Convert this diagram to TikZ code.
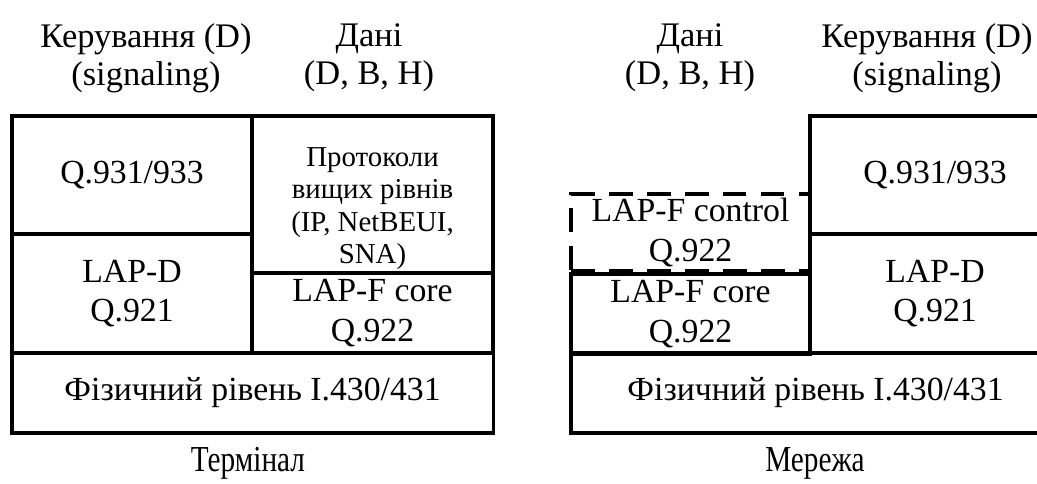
\documentclass[tikz,border=0pt]{standalone}
\usepackage{fontspec}
\setmainfont{Liberation Serif}
\usepackage{tikz}
\usetikzlibrary{positioning}

\begin{document}
\begin{tikzpicture}[
  x=0.025cm, y=-0.025cm,
  layer/.style={rectangle, draw, line width=2.3pt, anchor=north west,
                inner sep=0pt, outer sep=0pt, align=center,
                font=\fontsize{24}{28}\selectfont},
  dashlayer/.style={layer, dash pattern=on 17pt off 10pt},
  small/.style={align=center, inner sep=0pt, font=\fontsize{20.5}{23}\selectfont},
  head/.style={align=center, font=\fontsize{24.5}{27}\selectfont},
  caption/.style={font=\fontsize{26}{28}\selectfont}
]
\useasboundingbox (0,0) rectangle (1037,483);
\clip (0,0) rectangle (1037,483);

% terminal side
\node[layer, minimum width=6cm, minimum height=2.95cm] (q931T) at (12,116) {Q.931/933};
\node[layer, minimum width=6cm, minimum height=2.975cm] (lapdT) at (12,234) {LAP-D\\Q.921};
\node[layer, minimum width=6.025cm, minimum height=3.925cm] (protoT) at (252,116) {};
\node[small, below=0.78cm of protoT.north] (protoTxt)
  {Протоколи\\вищих рівнів\\(IP, NetBEUI,\\SNA)};
\node[layer, minimum width=6.025cm, minimum height=2cm] (coreT) at (252,273) {LAP-F core\\Q.922};
\node[layer, minimum width=12.025cm, minimum height=2cm] (physT) at (12,353) {Фізичний рівень I.430/431};

% network side
\node[dashlayer, minimum width=5.975cm, minimum height=1.925cm] (ctrlN) at (571,194) {LAP-F control\\Q.922};
\node[layer, minimum width=5.975cm, minimum height=2cm] (coreN) at (571,274) {LAP-F core\\Q.922};
\node[layer, minimum width=6.25cm, minimum height=2.95cm] (q931N) at (810,116) {Q.931/933};
\node[layer, minimum width=6.25cm, minimum height=2.975cm] (lapdN) at (810,234) {LAP-D\\Q.921};
\node[layer, minimum width=12.225cm, minimum height=2cm] (physN) at (571,353) {Фізичний рівень I.430/431};

% column headings
\node[head] (ctlT) at (146,58) {Керування (D)\\(signaling)};
\node[head] (datT) at (369,58) {Дані\\(D, B, H)};
\node[head] (datN) at (690,58) {Дані\\(D, B, H)};
\node[head] (ctlN) at (927,58) {Керування (D)\\(signaling)};

% captions
\node[caption] (termT) at (248,463) {\scalebox{0.8}[1]{Термінал}};
\node[caption] (netN) at (815,463) {\scalebox{0.8}[1]{Мережа}};

\end{tikzpicture}
\end{document}
